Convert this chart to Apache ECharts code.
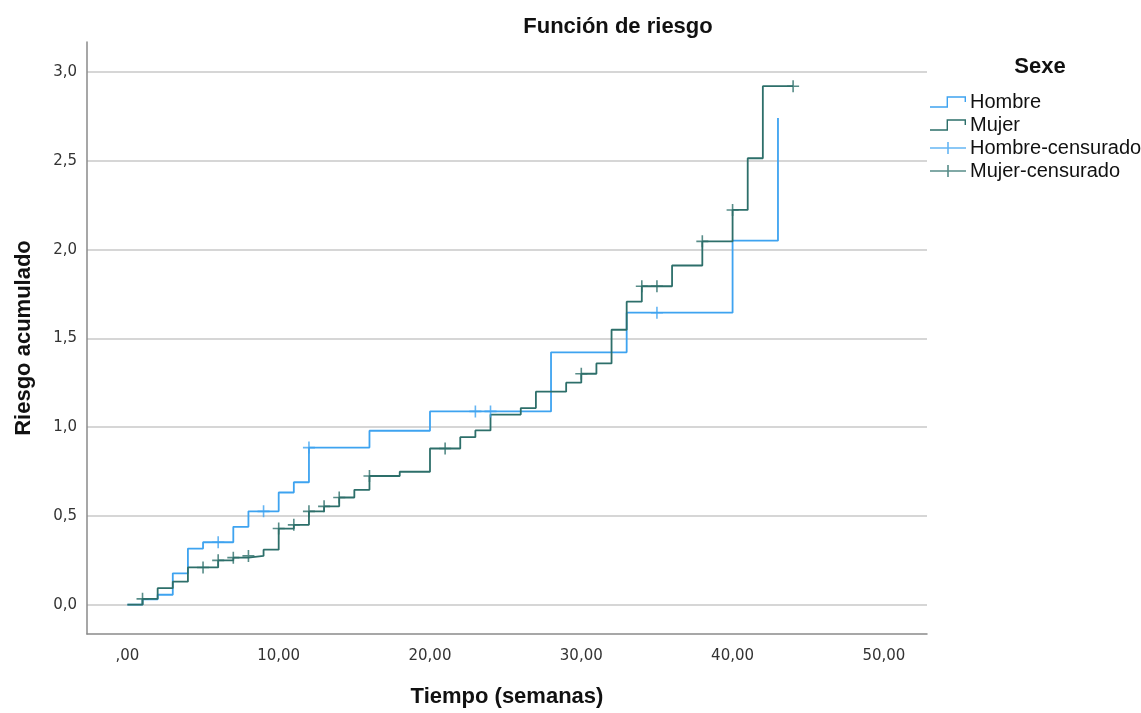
<!DOCTYPE html>
<html>
<head>
<meta charset="utf-8">
<script src="https://cdn.jsdelivr.net/npm/echarts@6/dist/echarts.min.js"></script>
<style>html,body{margin:0;padding:0;background:#fff}#c{width:1141px;height:713px}</style>
</head>
<body>
<div id="c"></div>
<script>
const xTicks = [0, 10, 20, 30, 40, 50];
const xTickLabels = [',00', '10,00', '20,00', '30,00', '40,00', '50,00'];
const yTicks = [0, 0.5, 1, 1.5, 2, 2.5, 3];
const yTickLabels = ['0,0', '0,5', '1,0', '1,5', '2,0', '2,5', '3,0'];

const hombreTime = [0, 1, 2, 3, 4, 5, 7, 8, 10, 11, 12, 16, 20, 28, 33, 40, 43];
const hombreRisk = [0, 0.03, 0.056, 0.177, 0.316, 0.352, 0.439, 0.526, 0.632, 0.69, 0.885, 0.98, 1.089, 1.422, 1.645, 2.051, 2.742];
const hombreCensTime = [6, 9, 12, 23, 24, 35];
const hombreCensRisk = [0.352, 0.526, 0.885, 1.089, 1.089, 1.645];

const mujerTime = [0, 1, 2, 3, 4, 6, 7, 8, 9, 10, 11, 12, 13, 14, 15, 16, 18, 20, 22, 23, 24, 26, 27, 29, 30, 31, 32, 33, 34, 36, 38, 40, 41, 42, 44];
const mujerRisk = [0, 0.033, 0.093, 0.13, 0.21, 0.25, 0.265, 0.275, 0.31, 0.429, 0.45, 0.526, 0.554, 0.604, 0.647, 0.725, 0.749, 0.88, 0.944, 0.982, 1.071, 1.108, 1.2, 1.251, 1.301, 1.359, 1.549, 1.707, 1.794, 1.911, 2.047, 2.224, 2.515, 2.921, 2.921];
const mujerCensTime = [1, 5, 6, 7, 8, 10, 11, 12, 13, 14, 16, 21, 30, 34, 35, 38, 40, 44];
const mujerCensRisk = [0.033, 0.21, 0.25, 0.265, 0.275, 0.429, 0.45, 0.526, 0.554, 0.604, 0.725, 0.88, 1.301, 1.794, 1.794, 2.047, 2.224, 2.921];

const seriesNames = ['Hombre', 'Mujer', 'Hombre-censurado', 'Mujer-censurado'];
const BLUE = '#3ea3f0';
const GREEN = '#2d6f6a';

const zip = (a, b) => a.map((v, i) => [v, b[i]]);
const plusSym = 'path://M0,5.2H12V6.8H0Z M5.2,0H6.8V12H5.2Z';
const stepIcon = 'path://M0,10.4H16.4V0.4H35.6V6H34.2V1.8H17.8V11.8H0Z';
const plusIcon = 'path://M0,5.2H36V6.8H0Z M17.2,0H18.8V12H17.2Z';

const chart = echarts.init(document.getElementById('c'), null, {renderer: 'canvas'});
chart.setOption({
  animation: false,
  backgroundColor: '#fff',
  title: [
    {text: 'Función de riesgo', left: 613, top: 11, textAlign: 'center',
     textStyle: {fontFamily: 'Liberation Sans', fontSize: 22, fontWeight: 'bold', color: '#111'}},
    {text: 'Sexe', left: 1035, top: 51, textAlign: 'center',
     textStyle: {fontFamily: 'Liberation Sans', fontSize: 22, fontWeight: 'bold', color: '#111'}}
  ],
  legend: {
    orient: 'vertical', left: 925, top: 87,
    itemWidth: 36, itemHeight: 12, itemGap: 3,
    textStyle: {fontFamily: 'Liberation Sans', fontSize: 20, color: '#111', padding: [0,0,0,-1]},
    data: [
      {name: seriesNames[0], icon: stepIcon},
      {name: seriesNames[1], icon: stepIcon},
      {name: seriesNames[2], icon: plusIcon},
      {name: seriesNames[3], icon: plusIcon}
    ],
    selectedMode: false
  },
  grid: {left: 87, right: 214, top: 42, bottom: 72, containLabel: false},
  xAxis: {
    type: 'value', min: -2.67, max: 52.85,
    name: 'Tiempo (semanas)', nameLocation: 'middle', nameGap: 52,
    nameTextStyle: {fontFamily: 'Liberation Sans', fontSize: 22, fontWeight: 'bold', color: '#111'},
    axisLine: {onZero: false, lineStyle: {color: '#8a8a8a', width: 1.5}},
    axisTick: {show: false, customValues: xTicks},
    axisLabel: {customValues: xTicks, margin: 15, fontFamily: 'DejaVu Sans', fontSize: 15, color: '#333',
      formatter: v => xTickLabels[xTicks.indexOf(v)]},
    splitLine: {show: false}
  },
  yAxis: {
    type: 'value', min: -0.165, max: 3.17,
    name: 'Riesgo acumulado', nameLocation: 'middle', nameGap: 52,
    nameTextStyle: {fontFamily: 'Liberation Sans', fontSize: 22, fontWeight: 'bold', color: '#111'},
    axisLine: {show: true, onZero: false, lineStyle: {color: '#8a8a8a', width: 1.5}},
    axisTick: {show: false, customValues: yTicks},
    axisLabel: {customValues: yTicks, margin: 10, fontFamily: 'DejaVu Sans', fontSize: 15, color: '#333',
      formatter: v => yTickLabels[yTicks.indexOf(v)]},
    splitLine: {show: true, lineStyle: {color: '#c8c8c8', width: 1.5}}
  },
  series: [
    {name: seriesNames[0], type: 'line', step: 'end', showSymbol: false, color: BLUE,
     lineStyle: {width: 1.8, color: BLUE}, data: zip(hombreTime, hombreRisk), z: 2},
    {name: seriesNames[1], type: 'line', step: 'end', showSymbol: false, color: GREEN,
     lineStyle: {width: 1.8, color: GREEN}, data: zip(mujerTime, mujerRisk), z: 3},
    {name: seriesNames[2], type: 'scatter', symbol: plusSym, symbolSize: 12, color: BLUE,
     itemStyle: {color: BLUE}, data: zip(hombreCensTime, hombreCensRisk), z: 4},
    {name: seriesNames[3], type: 'scatter', symbol: plusSym, symbolSize: 12, color: GREEN,
     itemStyle: {color: GREEN}, data: zip(mujerCensTime, mujerCensRisk), z: 5}
  ]
});
</script>
</body>
</html>
